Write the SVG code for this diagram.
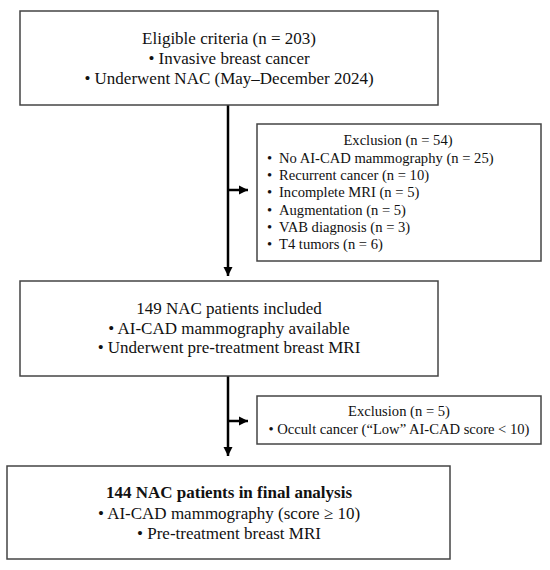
<svg xmlns="http://www.w3.org/2000/svg" width="550" height="570" viewBox="0 0 550 570">
<style>
.box{fill:#fff;stroke:#444;stroke-width:1.5}
.t{font-family:"Liberation Serif","Times New Roman",serif;font-size:17px;fill:#111;text-anchor:middle}
.s{font-family:"Liberation Serif","Times New Roman",serif;font-size:14.6px;fill:#111}
.c{text-anchor:middle}
.b{font-weight:bold}
.ln{stroke:#000;stroke-width:2.5;fill:none}
</style>
<defs>
<marker id="ah" markerUnits="userSpaceOnUse" markerWidth="10" markerHeight="10" refX="9" refY="5" orient="auto">
<path d="M0,0.5 L9,5 L0,9.5 Z" fill="#000"/>
</marker>
</defs>
<rect width="550" height="570" fill="#fff"/>
<g id="connectors">
<line class="ln" x1="228" y1="105" x2="228" y2="276" marker-end="url(#ah)"/>
<line class="ln" x1="228" y1="190" x2="248" y2="190" stroke-width="2" marker-end="url(#ah)"/>
<line class="ln" x1="228" y1="376" x2="228" y2="456" marker-end="url(#ah)"/>
<line class="ln" x1="228" y1="421" x2="248" y2="421" stroke-width="2" marker-end="url(#ah)"/>
</g>
<g id="eligible">
<rect class="box" x="20" y="11" width="418" height="94"/>
<text class="t" x="229" y="44">Eligible criteria (n = 203)</text>
<text class="t" x="229" y="64">• Invasive breast cancer</text>
<text class="t" x="229" y="84">• Underwent NAC (May–December 2024)</text>
</g>
<g id="exclusion1">
<rect class="box" x="257" y="124" width="284" height="137"/>
<text class="s c" x="398" y="145">Exclusion (n = 54)</text>
<text class="s" y="163"><tspan x="267">•</tspan><tspan x="279">No AI-CAD mammography (n = 25)</tspan></text>
<text class="s" y="180"><tspan x="267">•</tspan><tspan x="279">Recurrent cancer (n = 10)</tspan></text>
<text class="s" y="197"><tspan x="267">•</tspan><tspan x="279">Incomplete MRI (n = 5)</tspan></text>
<text class="s" y="215"><tspan x="267">•</tspan><tspan x="279">Augmentation (n = 5)</tspan></text>
<text class="s" y="232"><tspan x="267">•</tspan><tspan x="279">VAB diagnosis (n = 3)</tspan></text>
<text class="s" y="249"><tspan x="267">•</tspan><tspan x="279">T4 tumors (n = 6)</tspan></text>
</g>
<g id="included">
<rect class="box" x="20" y="281" width="418" height="95"/>
<text class="t" x="229" y="314">149 NAC patients included</text>
<text class="t" x="229" y="334">• AI-CAD mammography available</text>
<text class="t" x="229" y="353">• Underwent pre-treatment breast MRI</text>
</g>
<g id="exclusion2">
<rect class="box" x="257" y="396" width="284" height="48"/>
<text class="s c" x="399" y="416">Exclusion (n = 5)</text>
<text class="s c" x="399" y="434">• Occult cancer (“Low” AI-CAD score &lt; 10)</text>
</g>
<g id="final">
<rect class="box" x="7" y="466" width="443" height="93"/>
<text class="t b" x="229" y="498">144 NAC patients in final analysis</text>
<text class="t" x="229" y="519">• AI-CAD mammography (score ≥ 10)</text>
<text class="t" x="229" y="539">• Pre-treatment breast MRI</text>
</g>
</svg>
